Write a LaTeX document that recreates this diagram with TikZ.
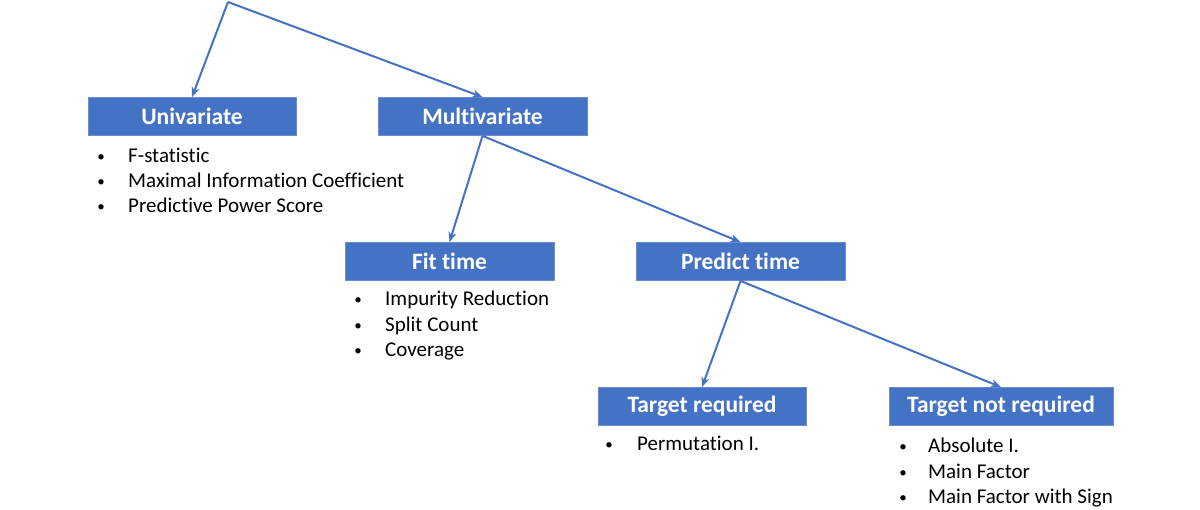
\documentclass[tikz,border=0pt]{standalone}
\usepackage{fontspec}
\setmainfont{Carlito}[Ligatures=NoCommon]
\usetikzlibrary{arrows.meta}
\definecolor{boxblue}{HTML}{4472C4}
\definecolor{linkblue}{HTML}{4472C4}
\begin{document}
\begin{tikzpicture}[x=1pt,y=-1pt,
  box/.style={fill=boxblue,draw=boxblue!80!white,line width=0.8pt,text=white,
    font=\fontsize{23.5}{28}\selectfont\bfseries,minimum height=38pt,inner sep=0pt},
  item/.style={anchor=base west,font=\fontsize{21}{25}\selectfont,inner sep=0pt},
  bul/.style={anchor=base,font=\fontsize{15}{18}\selectfont,inner sep=0pt},
  link/.style={draw=linkblue,line width=2pt,-{Stealth[length=10pt,width=8pt,inset=3pt]}}]
\useasboundingbox[fill=white] (0,0) rectangle (1200,509);
\coordinate (root) at (228,2);
\node[box,minimum width=208pt] (uni) at (192,116.5) {Univariate};
\node[box,minimum width=209pt] (multi) at (482.5,116.5) {Multivariate};
\node[box,minimum width=209pt] (fit) at (449.5,261.5) {Fit time};
\node[box,minimum width=209pt] (pred) at (740.5,261.5) {Predict time};
\node[box,minimum width=208pt] (treq) at (702,406.5) {Target required};
\node[box,minimum width=224pt] (tnreq) at (1001,406.5) {Target not required};

\draw[link] (root) -- (uni.north);
\draw[link] (root) -- (multi.north);
\draw[link] (multi.south) -- (fit.north);
\draw[link] (multi.south) -- (pred.north);
\draw[link] (pred.south) -- (treq.north);
\draw[link] (pred.south) -- (tnreq.north);

% Univariate list
\node[bul] (ub1) at (101,161) {•};
\node[item] (u1) at (128,162) {F-statistic};
\node[bul] (ub2) at (101,186) {•};
\node[item] (u2) at (128,187) {Maximal Information Coefficient};
\node[bul] (ub3) at (101,211) {•};
\node[item] (u3) at (128,212) {Predictive Power Score};
% Fit time list
\node[bul] (fb1) at (358,304) {•};
\node[item] (f1) at (385,305) {Impurity Reduction};
\node[bul] (fb2) at (358,330) {•};
\node[item] (f2) at (385,331) {Split Count};
\node[bul] (fb3) at (358,355) {•};
\node[item] (f3) at (385,356) {Coverage};
% Target required list
\node[bul] (tb1) at (609,449) {•};
\node[item] (t1) at (637,450) {Permutation I.};
% Target not required list
\node[bul] (nb1) at (903,451) {•};
\node[item] (n1) at (928,452) {Absolute I.};
\node[bul] (nb2) at (903,477) {•};
\node[item] (n2) at (928,478) {Main Factor};
\node[bul] (nb3) at (903,502) {•};
\node[item] (n3) at (928,503) {Main Factor with Sign};
\end{tikzpicture}
\end{document}
